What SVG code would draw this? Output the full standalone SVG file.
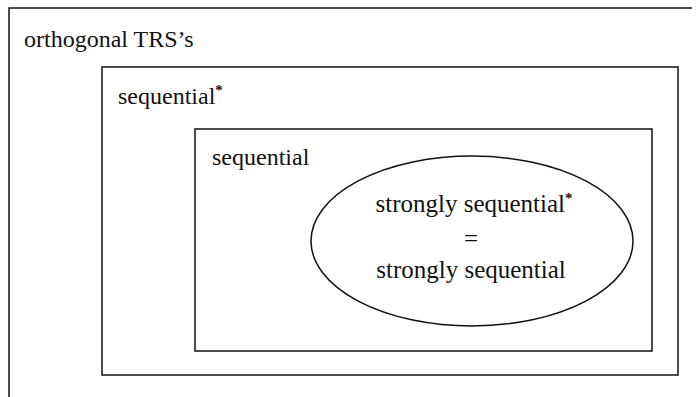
<svg xmlns="http://www.w3.org/2000/svg" width="697" height="397" viewBox="0 0 697 397">
<style>
.ln{fill:none;stroke:#111;stroke-width:1.5}
.t{font-family:"Liberation Serif","Times New Roman",serif;font-size:24px;fill:#111}
.e{font-size:25px}
.sup{font-size:15px;font-weight:bold}
</style>
<rect width="697" height="397" fill="#fff"/>
<g id="orthogonal">
<path class="ln" d="M692,8 H9 V397"/>
<text class="t" x="24" y="47">orthogonal TRS’s</text>
</g>
<g id="sequential-star">
<rect class="ln" x="102" y="67" width="576" height="308"/>
<text class="t" x="118" y="104">sequential<tspan class="sup" dy="-9">*</tspan></text>
</g>
<g id="sequential">
<rect class="ln" x="195" y="129" width="457" height="222"/>
<text class="t" x="212" y="165">sequential</text>
</g>
<g id="strongly">
<ellipse class="ln" cx="472" cy="241" rx="161" ry="85"/>
<text class="t e" x="474" y="212" text-anchor="middle">strongly sequential<tspan class="sup" dy="-9">*</tspan></text>
<text class="t e" x="471" y="247" text-anchor="middle">=</text>
<text class="t e" x="471" y="278" text-anchor="middle">strongly sequential</text>
</g>
<g id="connectors"></g>
</svg>
